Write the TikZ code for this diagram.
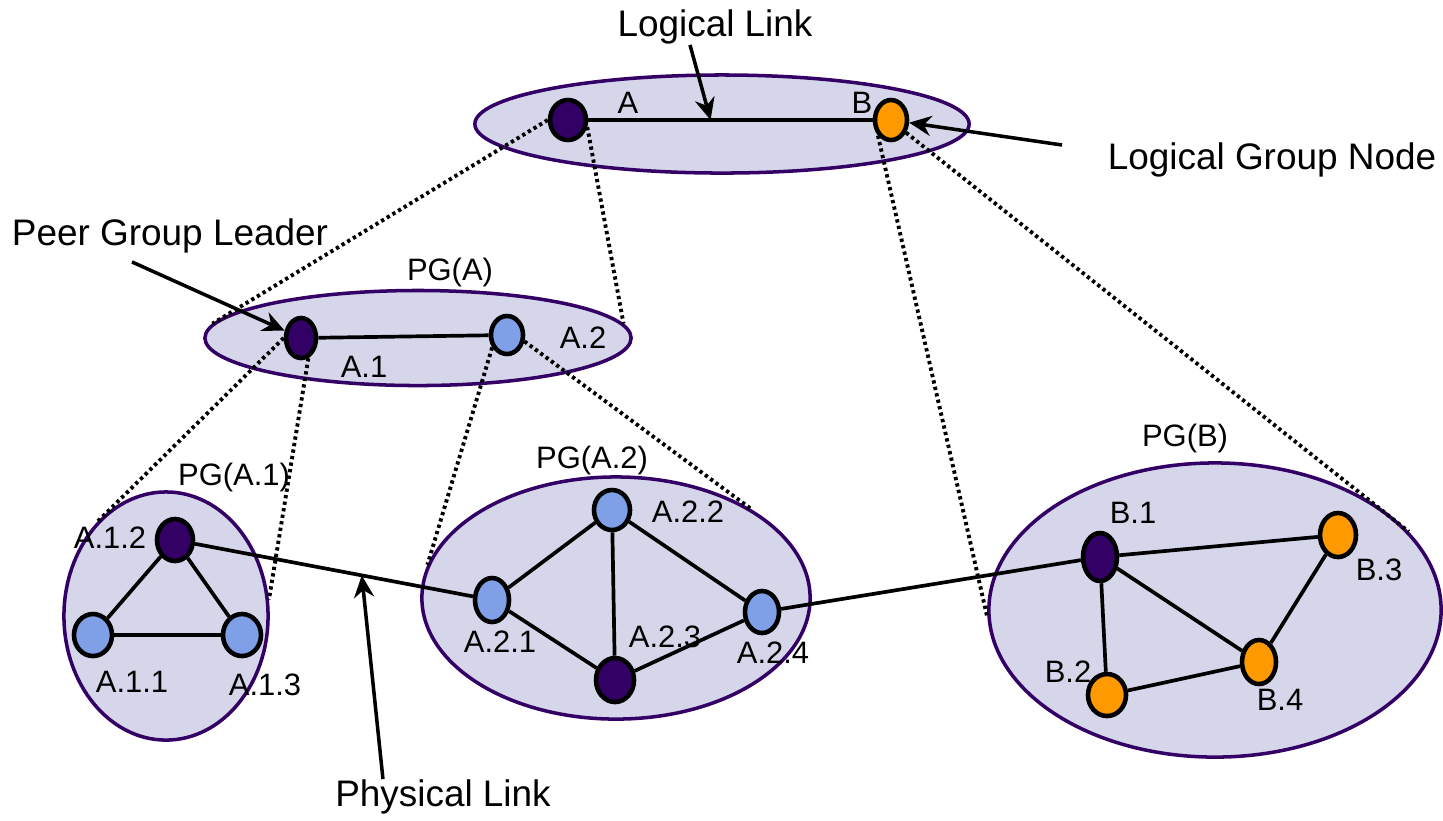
\documentclass[tikz,border=0pt]{standalone}
\usepackage{fontspec}
\setmainfont{Liberation Sans}
\usetikzlibrary{arrows.meta, shapes.geometric}
\definecolor{pgfill}{HTML}{D6D6EB}
\definecolor{pgline}{HTML}{330066}
\definecolor{leader}{HTML}{330066}
\definecolor{member}{HTML}{7FA0E6}
\definecolor{bnode}{HTML}{FF9900}

\begin{document}
\begin{tikzpicture}[
  x=0.01cm, y=-0.01cm,
  >={Stealth[length=2.2mm, width=2mm]},
  group/.style={
    ellipse, draw=pgline, line width=1pt, fill=pgfill, inner sep=0pt
  },
  rnode/.style={
    ellipse, draw=black, line width=1.3pt, fill=#1, inner sep=0pt
  },
  link/.style={line width=1.05pt, black},
  proj/.style={line width=1.1pt, dash pattern=on 0.33mm off 0.33mm},
  lbl/.style={font=\fontsize{8.8}{10}\selectfont, inner sep=0pt},
  note/.style={font=\fontsize{10.5}{12}\selectfont, inner sep=0pt},
  arr/.style={->, line width=1pt},
]

\useasboundingbox (0,0) rectangle (1443,820);

% =============================================
% Peer groups
% =============================================
\node[group, minimum width=4.94cm, minimum height=0.98cm] (pgtop) at (722,124) {};
\node[group, minimum width=4.26cm, minimum height=0.95cm] (pga) at (418,338) {};
\node[group, minimum width=2.04cm, minimum height=2.48cm] (pga1) at (166,616) {};
\node[group, minimum width=3.88cm, minimum height=2.42cm] (pga2) at (616,598) {};
\node[group, minimum width=4.52cm, minimum height=2.94cm] (pgb) at (1215,610) {};

% =============================================
% Logical group nodes and switches
% =============================================
\node[rnode=leader, minimum width=3.6mm, minimum height=4mm] (A) at (568,120) {};
\node[rnode=bnode, minimum width=3.2mm, minimum height=4mm] (B) at (891,120) {};

\node[rnode=leader, minimum width=3mm, minimum height=4mm] (a1) at (301,338) {};
\node[rnode=member, minimum width=3.2mm, minimum height=3.8mm] (a2) at (507,335) {};

\node[rnode=leader, minimum width=3.6mm, minimum height=4.2mm] (a12) at (175,540) {};
\node[rnode=member, minimum width=3.8mm, minimum height=4.2mm] (a11) at (93,635) {};
\node[rnode=member, minimum width=3.8mm, minimum height=4.2mm] (a13) at (242,635) {};

\node[rnode=member, minimum width=3.6mm, minimum height=4mm] (a22) at (612,510) {};
\node[rnode=member, minimum width=3.4mm, minimum height=4.4mm] (a21) at (492,600) {};
\node[rnode=leader, minimum width=3.8mm, minimum height=4.4mm] (a23) at (615,680) {};
\node[rnode=member, minimum width=3.4mm, minimum height=4.2mm] (a24) at (762,612) {};

\node[rnode=leader, minimum width=3.4mm, minimum height=4.8mm] (b1) at (1100,557) {};
\node[rnode=bnode, minimum width=3.6mm, minimum height=4.4mm] (b3) at (1338,535) {};
\node[rnode=bnode, minimum width=3.4mm, minimum height=4.4mm] (b4) at (1259,662) {};
\node[rnode=bnode, minimum width=3.8mm, minimum height=4.2mm] (b2) at (1107,695) {};

% =============================================
% Projections onto child groups (dotted)
% =============================================
\draw[proj] (A.west) -- (pga.176);
\draw[proj] (A.-20) -- (pga.4);
\draw[proj] (B.230) -- (pgb.182);
\draw[proj] (B.-40) -- (pgb.22);
\draw[proj] (a1.west) -- (pga1.127);
\draw[proj] (a1.-70) -- (pga1.9);
\draw[proj] (a2.220) -- (pga2.170);
\draw[proj] (a2.-20) -- (pga2.33);

% =============================================
% Links
% =============================================
\draw[link] (A) -- (B);
\draw[link] (a1) -- (a2);

\draw[link] (a12) -- (a11);
\draw[link] (a12) -- (a13);
\draw[link] (a11) -- (a13);

\draw[link] (a21) -- (a22);
\draw[link] (a22) -- (a23);
\draw[link] (a22) -- (a24);
\draw[link] (a21) -- (a23);
\draw[link] (a23) -- (a24);

\draw[link] (b1) -- (b3);
\draw[link] (b1) -- (b4);
\draw[link] (b1) -- (b2);
\draw[link] (b2) -- (b4);
\draw[link] (b3) -- (b4);

% physical links between groups
\draw[link] (a12) -- (a21);
\draw[link] (a24) -- (b1);

% =============================================
% Labels
% =============================================
\node[lbl] (lA) at (628,103) {A};
\node[lbl] (lB) at (862,103) {B};
\node[lbl] (lpga) at (450,272) {PG(A)};
\node[lbl] (la1) at (364,367) {A.1};
\node[lbl] (la2) at (583,338) {A.2};
\node[lbl] (lpga1) at (234,477) {PG(A.1)};
\node[lbl] (la12) at (110,538) {A.1.2};
\node[lbl] (la11) at (132,682) {A.1.1};
\node[lbl] (la13) at (265,685) {A.1.3};
\node[lbl] (lpga2) at (592,460) {PG(A.2)};
\node[lbl] (la22) at (688,512) {A.2.2};
\node[lbl] (la21) at (500,642) {A.2.1};
\node[lbl] (la23) at (665,637) {A.2.3};
\node[lbl] (la24) at (773,653) {A.2.4};
\node[lbl] (lpgb) at (1185,438) {PG(B)};
\node[lbl] (lb1) at (1133,513) {B.1};
\node[lbl] (lb3) at (1379,570) {B.3};
\node[lbl] (lb4) at (1280,700) {B.4};
\node[lbl] (lb2) at (1068,672) {B.2};

% =============================================
% Callouts
% =============================================
\node[note] (txtll) at (715,27) {Logical Link};
\node[note] (txtlgn) at (1272,160) {Logical Group Node};
\node[note] (txtpgl) at (170,236) {Peer Group Leader};
\node[note] (txtpl) at (443,797) {Physical Link};

\path (A) -- (B) coordinate[pos=0.43] (llmid);
\path (a12) -- (a21) coordinate[pos=0.6] (plmid);

\draw[arr] ([xshift=-2.5mm]txtll.south) -- (llmid);
\draw[arr] ([xshift=-4.5mm, yshift=1.5mm]txtlgn.west) -- (B);
\draw[arr] ([xshift=-3.8mm, yshift=-0.8mm]txtpgl.south) -- (a1);
\draw[arr] ([xshift=-6mm]txtpl.north) -- (plmid);

\end{tikzpicture}
\end{document}
